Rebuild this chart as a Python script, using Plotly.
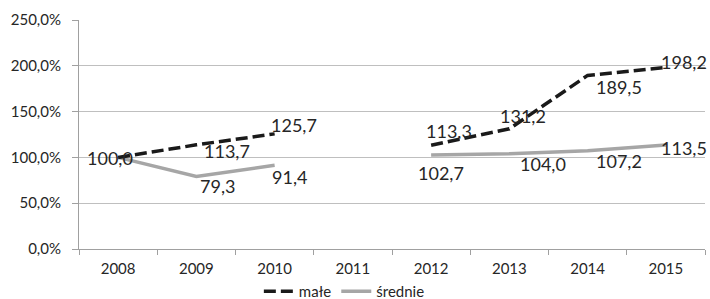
import plotly.graph_objects as go

years = ["2008", "2009", "2010", "2011", "2012", "2013", "2014", "2015"]
male = [100.0, 113.7, 125.7, None, 113.3, 131.2, 189.5, 198.2]
srednie = [100.0, 79.3, 91.4, None, 102.7, 104.0, 107.2, 113.5]

# label offsets (px) relative to each point: (xshift, yshift)
male_off = [None, (31, -6), (19, 9), None, (18, 14), (14, 13), (31, -12), (18, 5)]
sred_off = [(-8, -1), (21, -10), (15, -12), None, (10, -18), (34, -10), (31, -10), (18, -3)]


def fmt(v):
    return f"{v:.1f}".replace(".", ",")


fig = go.Figure()
fig.add_trace(go.Scatter(
    x=years, y=srednie, name="średnie", mode="lines",
    line=dict(color="#a6a6a6", width=3.5),
    connectgaps=False,
))
fig.add_trace(go.Scatter(
    x=years, y=male, name="małe", mode="lines",
    line=dict(color="#1a1a1a", width=3.5, dash="12px,5px"),
    connectgaps=False,
))

for vals, offs in ((srednie, sred_off), (male, male_off)):
    for i, (v, off) in enumerate(zip(vals, offs)):
        if v is None or off is None:
            continue
        fig.add_annotation(x=i, y=v, xref="x", yref="y", text=fmt(v), showarrow=False,
                           xshift=off[0], yshift=off[1],
                           font=dict(family="Lato", size=18, color="#262626"))

fig.update_layout(
    width=710, height=299,
    margin=dict(l=79, r=5, t=20, b=50),
    paper_bgcolor="white", plot_bgcolor="white",
    separators=", ",
    font=dict(family="Lato", size=15, color="#262626"),
    showlegend=True,
    legend=dict(orientation="h", x=0.485, xanchor="center", xref="container",
                y=0.025, yanchor="middle", yref="container",
                traceorder="reversed", font=dict(size=15),
                tracegroupgap=0),
)
fig.update_xaxes(
    type="category", range=[-0.5, 7.5], tickson="boundaries",
    ticks="outside", ticklen=5, tickcolor="#a0a0a0", ticklabelstandoff=6,
    showline=True, linecolor="#a0a0a0", linewidth=1, showgrid=False,
    automargin=False,
)
fig.update_yaxes(
    range=[0, 250], dtick=50, tickformat=".1f", ticksuffix="%",
    ticks="outside", ticklen=6, tickcolor="#a0a0a0", ticklabelstandoff=8,
    showline=True, linecolor="#a0a0a0", linewidth=1,
    showgrid=True, gridcolor="#bfbfbf", gridwidth=1, zeroline=False,
    automargin=False,
)

fig.write_html("out.html", config={"displayModeBar": False},
               post_script="document.body.style.margin='0';")
